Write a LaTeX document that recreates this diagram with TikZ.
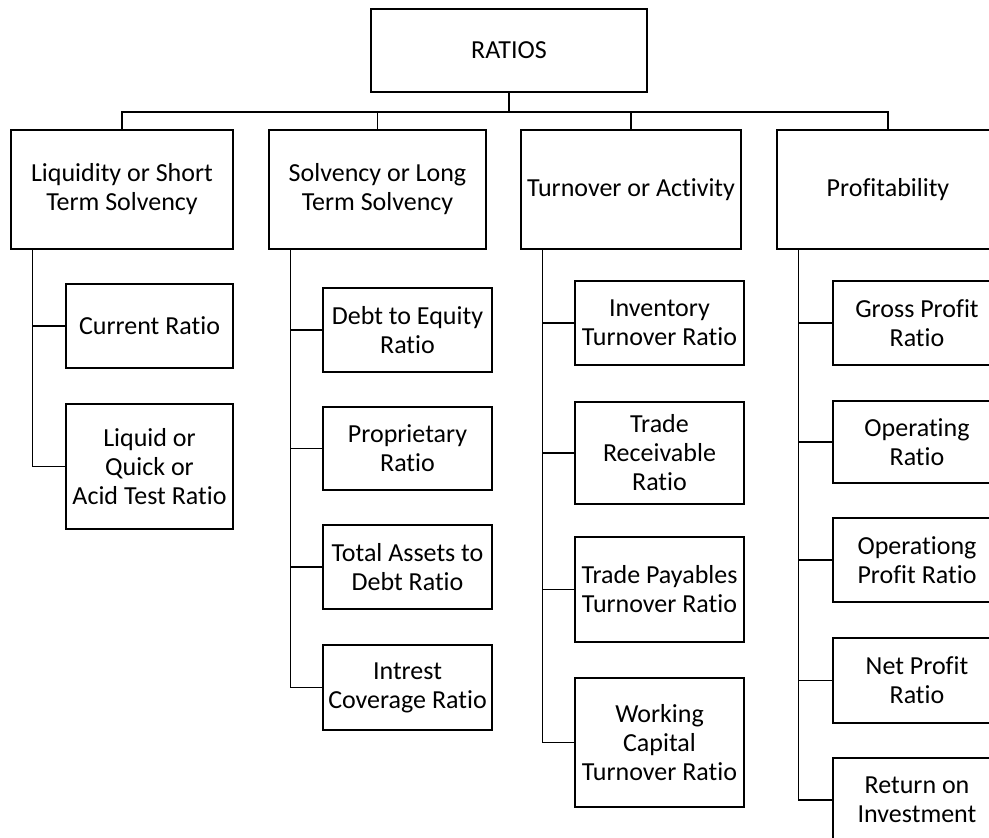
\documentclass[tikz,border=0pt]{standalone}
\usepackage{fontspec}
\setmainfont{Carlito}[Ligatures=NoCommon]
\usepackage{tikz}

\begin{document}
\begin{tikzpicture}[x=1pt,y=-1pt,line width=1.5pt,
  box/.style={draw,rectangle,inner sep=0pt,align=center,font=\fontsize{26}{29}\selectfont},
  head/.style={box,minimum width=221pt,minimum height=119pt},
  leaf/.style={box,minimum width=168pt,minimum height=84pt}]
\useasboundingbox(0,0)rectangle(989,838);
\clip(0,0)rectangle(989,838);
% top box
\node[box,minimum width=276pt,minimum height=83pt](ratios)at(509,50.5){RATIOS};
% four groups
\node[head,minimum width=222pt](liq)at(122,189.5){Liquidity or Short\\Term Solvency};
\node[head,minimum width=217pt](sol)at(377.5,189.5){Solvency or Long\\Term Solvency};
\node[head,minimum width=220pt](turn)at(631,189.5){Turnover or Activity};
\node[head,minimum width=222pt](prof)at(888,189.5){Profitability};
% liquidity
\node[leaf,minimum width=167pt](cur)at(149.5,326){Current Ratio};
\node[leaf,minimum width=167pt,minimum height=125pt](quick)at(149.5,466.5){Liquid or\\Quick or\\Acid Test Ratio};
% solvency
\node[leaf,minimum width=169pt](debt)at(407.5,330){Debt to Equity\\Ratio};
\node[leaf,minimum width=169pt,minimum height=83pt](prop)at(407.5,448.5){Proprietary\\Ratio};
\node[leaf,minimum width=169pt](tad)at(407.5,567){Total Assets to\\Debt Ratio};
\node[leaf,minimum width=169pt,minimum height=85pt](intr)at(407.5,687.5){Intrest\\Coverage Ratio};
% turnover
\node[leaf,minimum width=169pt](inv)at(659.5,323){Inventory\\Turnover Ratio};
\node[leaf,minimum width=169pt,minimum height=102pt](trec)at(659.5,453){Trade\\Receivable\\Ratio};
\node[leaf,minimum width=169pt,minimum height=105pt](tpay)at(659.5,589.5){Trade Payables\\Turnover Ratio};
\node[leaf,minimum width=169pt,minimum height=129pt](wcap)at(659.5,742.5){Working\\Capital\\Turnover Ratio};
% profitability
\node[leaf](gp)at(917,323){Gross Profit\\Ratio};
\node[leaf,minimum height=82pt](op)at(917,442){Operating\\Ratio};
\node[leaf](opp)at(917,560){Operationg\\Profit Ratio};
\node[leaf,minimum height=85pt](np)at(917,680.5){Net Profit\\Ratio};
\node[leaf](roi)at(917,800){Return on\\Investment};
% connectors
\coordinate(bus)at(0,112);
\draw(ratios.south)--(ratios.south|-bus);
\draw(liq.north)|-(bus-|prof.north)--(prof.north);
\draw(sol.north)--(sol.north|-bus);
\draw(turn.north)--(turn.north|-bus);
\foreach \p/\c in {liq/cur,liq/quick,sol/debt,sol/prop,sol/tad,sol/intr,
  turn/inv,turn/trec,turn/tpay,turn/wcap,prof/gp,prof/op,prof/opp,prof/np,prof/roi}
  \draw([xshift=22pt]\p.south west)|-(\c.west);
\end{tikzpicture}
\end{document}
